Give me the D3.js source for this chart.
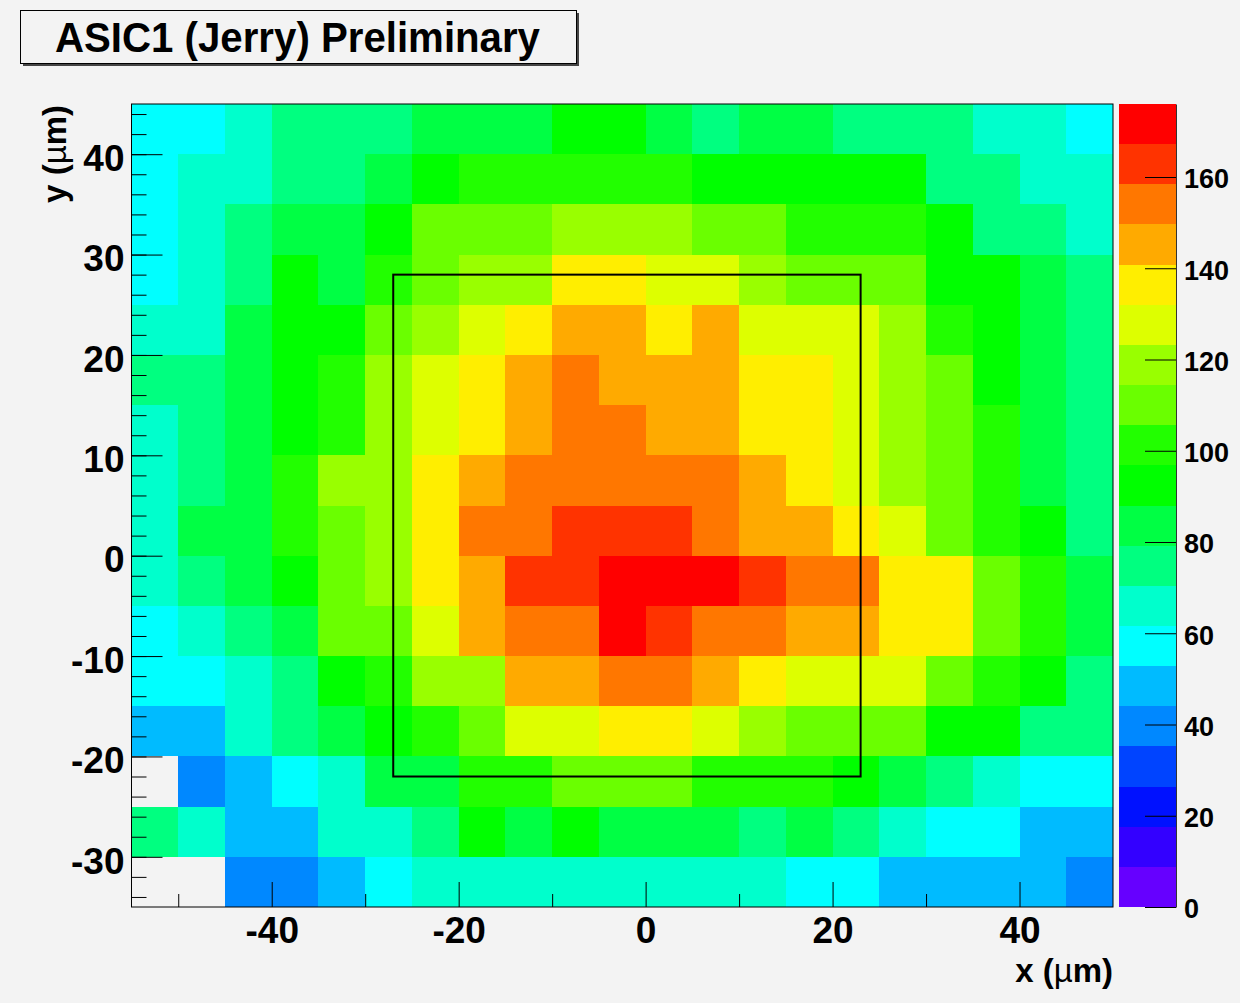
<!DOCTYPE html>
<html>
<head>
<meta charset="utf-8">
<script src="https://cdn.jsdelivr.net/npm/d3@7"></script>
<style>
  body { margin: 0; background: #f3f3f3; }
  svg { display: block; }
</style>
</head>
<body>
<svg id="chart" width="1240" height="1003"></svg>
<script>
// bin low edges (um), 5 um wide bins
const xBins = [-55, -50, -45, -40, -35, -30, -25, -20, -15, -10, -5, 0, 5, 10, 15, 20, 25, 30, 35, 40, 45];
const yBins = [40, 35, 30, 25, 20, 15, 10, 5, 0, -5, -10, -15, -20, -25, -30, -35]; // top row first
const binSize = 5;

// hit counts per bin, one row per yBins entry, columns follow xBins (null = empty bin)
const counts = [
  [58, 56, 66, 74, 76, 75, 83, 85, 84, 91, 93, 86, 77, 83, 85, 76, 74, 73, 65, 67, 57],
  [59, 64, 67, 74, 76, 82, 92, 100, 102, 101, 103, 99, 94, 92, 91, 93, 90, 75, 73, 66, 64],
  [60, 65, 74, 83, 85, 93, 108, 111, 110, 118, 121, 117, 109, 112, 102, 100, 101, 91, 76, 73, 66],
  [59, 67, 75, 92, 84, 101, 110, 118, 120, 136, 138, 127, 129, 119, 111, 108, 109, 93, 91, 83, 74],
  [66, 65, 84, 93, 91, 111, 119, 128, 137, 145, 146, 136, 144, 127, 129, 128, 118, 101, 92, 85, 76],
  [73, 75, 83, 92, 102, 120, 128, 138, 146, 154, 145, 147, 144, 136, 137, 128, 120, 110, 93, 84, 75],
  [68, 74, 85, 91, 100, 119, 129, 137, 145, 155, 153, 146, 145, 138, 136, 127, 118, 111, 102, 84, 74],
  [67, 76, 84, 101, 118, 120, 138, 146, 153, 156, 155, 154, 153, 144, 137, 129, 120, 109, 100, 83, 76],
  [66, 84, 85, 102, 110, 119, 137, 154, 155, 163, 164, 162, 153, 146, 145, 136, 128, 111, 102, 92, 75],
  [65, 75, 84, 93, 111, 120, 136, 147, 162, 164, 172, 176, 171, 163, 154, 155, 137, 136, 110, 101, 83],
  [58, 66, 75, 85, 109, 111, 127, 145, 154, 153, 170, 163, 156, 154, 146, 144, 137, 138, 110, 102, 84],
  [57, 59, 67, 76, 92, 101, 119, 120, 146, 145, 153, 155, 145, 137, 128, 127, 129, 110, 100, 93, 75],
  [48, 49, 66, 74, 84, 92, 102, 110, 128, 129, 137, 136, 127, 118, 109, 111, 110, 92, 91, 76, 74],
  [null, 40, 48, 57, 66, 85, 84, 101, 102, 110, 111, 109, 101, 100, 102, 93, 84, 76, 65, 58, 56],
  [73, 64, 48, 49, 66, 67, 75, 92, 83, 93, 84, 85, 83, 75, 84, 74, 65, 58, 57, 48, 49],
  [null, null, 39, 41, 48, 57, 65, 67, 66, 68, 66, 65, 67, 66, 58, 57, 49, 48, 47, 49, 41]
];

const xMajorTicks = [-40, -20, 0, 20, 40];
const xMinorTicks = [-50, -30, -10, 10, 30];
const yMajorTicks = [-30, -20, -10, 0, 10, 20, 30, 40];
const yMinorTicks = [-34, -32, -30, -28, -26, -24, -22, -20, -18, -16, -14, -12, -10, -8, -6, -4, -2, 0,
                     2, 4, 6, 8, 10, 12, 14, 16, 18, 20, 22, 24, 26, 28, 30, 32, 34, 36, 38, 40, 42, 44];
const zTicks = [0, 20, 40, 60, 80, 100, 120, 140, 160];

// 20 contour colours, lowest first
const paletteColors = ["#6600ff", "#3300ff", "#0011ff", "#0044ff", "#0088ff", "#00bbff", "#00ffff",
  "#00ffcc", "#00ff80", "#00ff44", "#00ff00", "#22ff00", "#6aff00", "#99ff00", "#ddff00",
  "#ffee00", "#ffaa00", "#ff7700", "#ff3300", "#ff0000"];

// sensor outline (um)
const boxX = [-27, 23];
const boxY = [-22, 28];

const titleText = "ASIC1 (Jerry) Preliminary";

let svg = d3.select("#chart");
let frame = {left: 131.5, right: 1113, top: 104, bottom: 907};
let bar = {left: 1119, right: 1176};
let labelFont = "'Liberation Sans', Arial, Helvetica, sans-serif";
let titleFont = "'Liberation Sans', Arial, Helvetica, sans-serif";
let plainNumber = function (d) { return String(d); }; // ASCII hyphen, as ROOT prints it

svg.append("rect").attr("width", 1240).attr("height", 1003).attr("fill", "#f3f3f3");

let x = d3.scaleLinear().domain([-55, 50]).range([frame.left, frame.right]);
let y = d3.scaleLinear().domain([-35, 45]).range([frame.bottom, frame.top]);

let zMax = d3.max(counts.flat());
let color = d3.scaleQuantize().domain([0, zMax]).range(paletteColors);

// cells
let cells = [];
counts.forEach(function (row, r) {
    row.forEach(function (v, c) {
        if (v !== null) cells.push({x0: xBins[c], y0: yBins[r], value: v});
    });
});

svg.append("g").attr("shape-rendering", "crispEdges")
    .selectAll("rect").data(cells).enter()
    .append("rect")
    .attr("x", function (d) { return x(d.x0); })
    .attr("y", function (d) { return y(d.y0 + binSize); })
    .attr("width", function (d) { return x(d.x0 + binSize) - x(d.x0); })
    .attr("height", function (d) { return y(d.y0) - y(d.y0 + binSize); })
    .attr("fill", function (d) { return color(d.value); });

// sensor box
svg.append("rect")
    .attr("x", x(boxX[0])).attr("y", y(boxY[1]))
    .attr("width", x(boxX[1]) - x(boxX[0]))
    .attr("height", y(boxY[0]) - y(boxY[1]))
    .attr("fill", "none").attr("stroke", "#000").attr("stroke-width", 2);

// frame
svg.append("rect")
    .attr("x", frame.left).attr("y", frame.top)
    .attr("width", frame.right - frame.left).attr("height", frame.bottom - frame.top)
    .attr("fill", "none").attr("stroke", "#000").attr("stroke-width", 1);

// axes (ticks drawn inside the frame like ROOT)
function styleAxis(g, size) {
    g.select(".domain").remove();
    g.selectAll("line").attr("stroke", "#000");
    g.selectAll("text")
        .attr("fill", "#000")
        .style("font-family", labelFont)
        .style("font-weight", "bold")
        .style("font-size", size + "px");
}

svg.append("g").attr("transform", "translate(" + frame.left + ",0)")
    .call(d3.axisLeft(y).tickValues(yMinorTicks).tickSize(-15).tickFormat(""))
    .call(styleAxis, 37);
svg.append("g").attr("transform", "translate(" + frame.left + ",0)")
    .call(d3.axisLeft(y).tickValues(yMajorTicks).tickSize(-31).tickPadding(7).tickFormat(plainNumber))
    .call(styleAxis, 37)
    .selectAll("text").attr("dy", "0.44em");

svg.append("g").attr("transform", "translate(0," + frame.bottom + ")")
    .call(d3.axisBottom(x).tickValues(xMinorTicks).tickSize(-13).tickFormat(""))
    .call(styleAxis, 37);
svg.append("g").attr("transform", "translate(0," + frame.bottom + ")")
    .call(d3.axisBottom(x).tickValues(xMajorTicks).tickSize(-25).tickPadding(10).tickFormat(plainNumber))
    .call(styleAxis, 37);

// axis titles
let xTitle = svg.append("text")
    .attr("x", frame.right).attr("y", 982)
    .attr("text-anchor", "end")
    .style("font-family", titleFont).style("font-weight", "bold").style("font-size", "33px");
xTitle.append("tspan").text("x (");
xTitle.append("tspan").style("font-weight", "normal").text("\u00b5");
xTitle.append("tspan").text("m)");

let yTitle = svg.append("text")
    .attr("transform", "translate(66," + (frame.top + 1) + ") rotate(-90)")
    .attr("text-anchor", "end")
    .style("font-family", titleFont).style("font-weight", "bold").style("font-size", "33px");
yTitle.append("tspan").text("y (");
yTitle.append("tspan").style("font-weight", "normal").text("\u00b5");
yTitle.append("tspan").text("m)");

// colour bar
let z = d3.scaleLinear().domain([0, zMax]).range([frame.bottom, frame.top]);
let bands = paletteColors.map(function (col) {
    let ext = color.invertExtent(col);
    return {lo: ext[0], hi: ext[1], col: col};
});
svg.append("g").attr("shape-rendering", "crispEdges")
    .selectAll("rect").data(bands).enter()
    .append("rect")
    .attr("x", bar.left)
    .attr("y", function (d) { return z(d.hi); })
    .attr("width", bar.right - bar.left)
    .attr("height", function (d) { return z(d.lo) - z(d.hi); })
    .attr("fill", function (d) { return d.col; });

let zAxis = svg.append("g").attr("transform", "translate(" + bar.right + ",0)")
    .call(d3.axisRight(z).tickValues(zTicks).tickSize(-31).tickSizeOuter(0).tickPadding(8).tickFormat(plainNumber));
zAxis.select(".domain").attr("stroke", "#333");
zAxis.selectAll("line").attr("stroke", "#000");
zAxis.selectAll("text")
    .attr("fill", "#000")
    .attr("dy", "0.4em")
    .style("font-family", titleFont)
    .style("font-weight", "bold")
    .style("font-size", "27px");

// title box with shadow
svg.append("rect").attr("x", 23).attr("y", 13).attr("width", 556).attr("height", 53).attr("fill", "#444");
svg.append("rect").attr("x", 20.5).attr("y", 10.5).attr("width", 556).attr("height", 53)
    .attr("fill", "#f3f3f3").attr("stroke", "#000").attr("stroke-width", 1);
svg.append("text")
    .attr("x", 55).attr("y", 52)
    .attr("textLength", 485).attr("lengthAdjust", "spacingAndGlyphs")
    .style("font-family", titleFont).style("font-weight", "bold").style("font-size", "42px")
    .text(titleText);
</script>
</body>
</html>
